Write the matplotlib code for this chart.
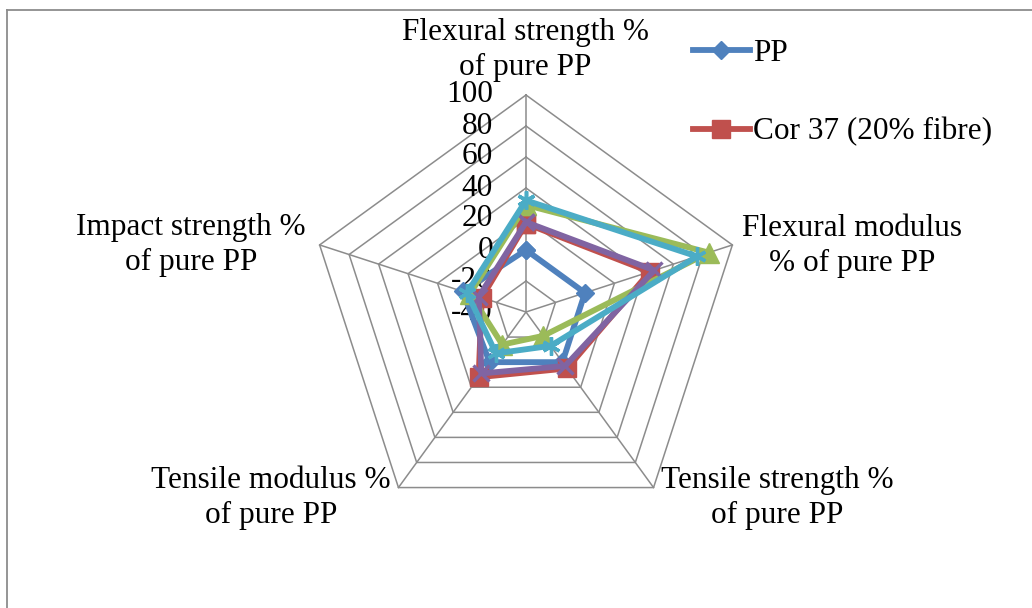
import numpy as np
import matplotlib
matplotlib.use("Agg")
import matplotlib.pyplot as plt
from matplotlib import transforms
from matplotlib.lines import Line2D

# ---------------- data ----------------
categories = ["Flexural strength %\nof pure PP",
              "Flexural modulus\n% of pure PP",
              "Tensile strength %\nof pure PP",
              "Tensile modulus %\nof pure PP",
              "Impact strength %\nof pure PP"]
r_ticks = [-40, -20, 0, 20, 40, 60, 80, 100]

series_names = ["PP", "Cor 37 (20% fibre)", "Series 3", "Series 4", "Series 5"]
pp_values = [0, 0, 0, 0, 3]
cor37_values = [17, 44, 5, 12, -10]
series3_values = [29, 84, -21, -14, -2]
series4_values = [18, 47, 3, 9, -8]
series5_values = [32, 76, -13, -7, 0]

colors = ["#4F81BD", "#C0504D", "#9BBB59", "#8064A2", "#4BACC6"]
markers = ["D", "s", "^", "x", (6, 2, 0)]
msizes = [9.5, 13.5, 14.5, 11, 13]

# ---------------- figure ----------------
W, H = 1032, 608
DPI = 100
FS = 22.5
plt.rcParams["font.family"] = ["Liberation Serif", "DejaVu Serif"]
fig = plt.figure(figsize=(W / DPI, H / DPI), dpi=DPI)
fig.patch.set_facecolor("white")

cx, cy, R = 526, 312, 217
ax = fig.add_axes([(cx - R) / W, (H - cy - R) / H, 2 * R / W, 2 * R / H],
                  projection="polar")
ax.set_theta_offset(np.pi / 2)
ax.set_theta_direction(-1)
ax.set_ylim(r_ticks[0], r_ticks[-1])
ax.grid(False)
ax.spines["polar"].set_visible(False)
ax.set_xticks([])
ax.set_yticks([])
ax.patch.set_visible(False)

n = len(categories)
angles = np.linspace(0, 2 * np.pi, n, endpoint=False)
ang_c = np.append(angles, angles[0])

grid_col = "#8C8C8C"
for v in r_ticks[1:]:
    ax.plot(ang_c, [v] * (n + 1), color=grid_col, lw=1.1, zorder=1, clip_on=False)
for a in angles:
    ax.plot([a, a], [r_ticks[0], r_ticks[-1]], color=grid_col, lw=1.1, zorder=1,
            clip_on=False)

# tick labels along top spoke
off = transforms.offset_copy(ax.transData, fig=fig, x=-33, y=0, units="dots")
for v in r_ticks:
    ax.text(0, v, str(v), transform=off, ha="right", va="center",
            fontsize=FS, zorder=3)

all_values = [pp_values, cor37_values, series3_values, series4_values, series5_values]
handles = []
for vals, col, mk, ms, name in zip(all_values, colors, markers, msizes, series_names):
    vv = list(vals) + [vals[0]]
    ln, = ax.plot(ang_c, vv, color=col, lw=4.2, marker=mk, markersize=ms,
                  markeredgewidth=2.4 if mk == "x" or isinstance(mk, tuple) else 1,
                  markeredgecolor=col, markerfacecolor=col, zorder=4,
                  clip_on=False, label=name, solid_joinstyle="round")
    handles.append(ln)

# category labels
def ftext(x, y, s, ha):
    fig.text(x / W, 1 - y / H, s, ha=ha, va="center", ma="center",
             fontsize=FS, linespacing=1.28)

ftext(525, 50, categories[0], "center")
ftext(742, 246, categories[1], "left")
ftext(661, 498, categories[2], "left")
ftext(391, 498, categories[3], "right")
ftext(306, 245, categories[4], "right")

# legend (only first two entries visible)
leg = fig.legend(handles=handles[:2], labels=series_names[:2], loc="upper left",
                 bbox_to_anchor=(693 / W, 1 - 39 / H), frameon=False,
                 fontsize=FS, handlelength=1.82, handletextpad=0.1,
                 labelspacing=1.58, borderpad=0, borderaxespad=0)

# chart frame (top and left edges)
fig.add_artist(Line2D([7 / W, 1.0], [1 - 10 / H, 1 - 10 / H],
                      transform=fig.transFigure, color="#8C8C8C", lw=1.3))
fig.add_artist(Line2D([7 / W, 7 / W], [1 - 10 / H, 0.0],
                      transform=fig.transFigure, color="#8C8C8C", lw=1.3))

fig.savefig("out.png", dpi=DPI, facecolor="white")
